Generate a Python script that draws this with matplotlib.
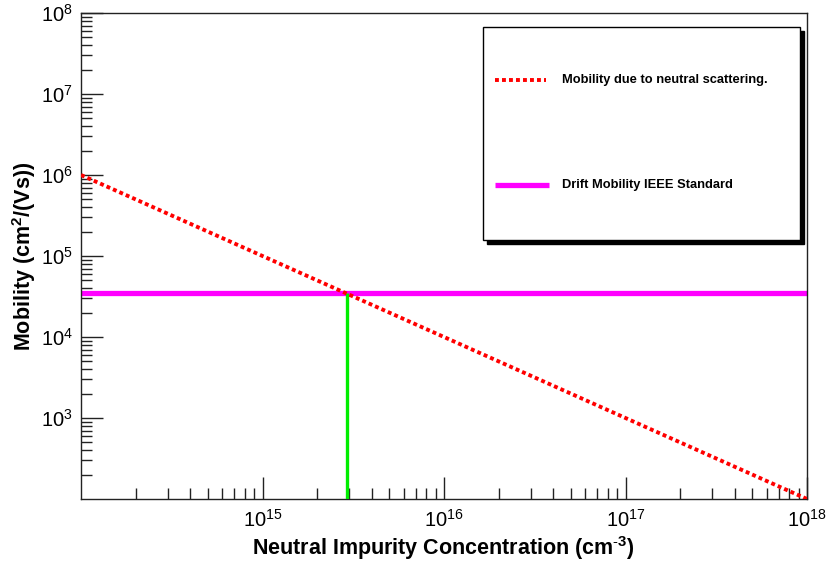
import matplotlib
matplotlib.use("Agg")
import matplotlib.pyplot as plt
from matplotlib.lines import Line2D
from matplotlib.patches import Rectangle
from matplotlib.ticker import LogLocator, NullFormatter

plt.rcParams['font.family'] = ['Liberation Sans', 'DejaVu Sans']
plt.rcParams['mathtext.fontset'] = 'custom'
plt.rcParams['mathtext.rm'] = 'Liberation Sans'
plt.rcParams['mathtext.bf'] = 'Liberation Sans:bold'
plt.rcParams['mathtext.default'] = 'regular'

# data
concentration = [1e14, 1e15, 1e16, 1e17, 1e18]
neutral_mobility = [1.0e6, 1.0e5, 1.0e4, 1.0e3, 1.0e2]
drift_mobility = 3.5e4
x_range = [1e14, 1e18]
y_range = [1e2, 1e8]
crossing_x = 2.93e15
x_ticks = [1e15, 1e16, 1e17, 1e18]
x_ticklabels = [r'$\mathdefault{10^{15}}$', r'$\mathdefault{10^{16}}$', r'$\mathdefault{10^{17}}$', r'$\mathdefault{10^{18}}$']
y_ticks = [1e3, 1e4, 1e5, 1e6, 1e7, 1e8]
y_ticklabels = [r'$\mathdefault{10^{3}}$', r'$\mathdefault{10^{4}}$', r'$\mathdefault{10^{5}}$',
                r'$\mathdefault{10^{6}}$', r'$\mathdefault{10^{7}}$', r'$\mathdefault{10^{8}}$']
legend_labels = ["Mobility due to neutral scattering.", "Drift Mobility IEEE Standard"]

W, H = 831, 565
fig = plt.figure(figsize=(W / 100, H / 100), dpi=100)
ax = fig.add_axes([81 / W, 1 - 499 / H, (807 - 81) / W, (499 - 13) / H])

ax.set_xscale('log')
ax.set_yscale('log')
ax.set_xlim(*x_range)
ax.set_ylim(*y_range)

ax.plot(x_range, [drift_mobility, drift_mobility], color='#ff00ff', lw=3.8, solid_capstyle='butt', zorder=2)
ax.plot([crossing_x, crossing_x], [y_range[0], drift_mobility], color='#00ee00', lw=2.4, solid_capstyle='butt', zorder=3)
ax.plot(concentration, neutral_mobility, color='#ff0000', lw=2.8, linestyle=(0, (1.0, 0.8)), zorder=4)

ax.xaxis.set_minor_locator(LogLocator(base=10, subs=range(2, 10), numticks=20))
ax.yaxis.set_minor_locator(LogLocator(base=10, subs=range(2, 10), numticks=20))
ax.xaxis.set_minor_formatter(NullFormatter())
ax.yaxis.set_minor_formatter(NullFormatter())
ax.set_xticks(x_ticks)
ax.set_xticklabels(x_ticklabels)
ax.set_yticks(y_ticks)
ax.set_yticklabels(y_ticklabels)

ax.tick_params(which='both', direction='in', top=False, right=False, color='#222222')
ax.tick_params(which='major', length=16, width=1, labelsize=14.5)
ax.tick_params(axis='x', which='major', pad=7)
ax.tick_params(axis='y', which='major', pad=6)
ax.tick_params(which='minor', length=8, width=1)
for s in ax.spines.values():
    s.set_linewidth(1.0)
    s.set_color('#222222')

fig.text(443 / W, 1 - 548 / H, r'Neutral Impurity Concentration (cm$^{\mathbf{\text{-}3}}$)', ha='center', va='center',
         fontsize=15.5, fontweight='bold')
fig.text(24 / W, 1 - 256 / H, r'Mobility (cm$^{\mathbf{2}}$/(Vs))', ha='center', va='center',
         fontsize=15.5, fontweight='bold', rotation=90)

# legend box with shadow
bx0, by0, bx1, by1 = 483, 27, 800, 240
fig.patches.append(Rectangle(((bx0 + 4) / W, 1 - (by1 + 4) / H), (bx1 - bx0) / W, (by1 - by0) / H,
                             transform=fig.transFigure, facecolor='black', edgecolor='black', zorder=5))
fig.patches.append(Rectangle((bx0 / W, 1 - by1 / H), (bx1 - bx0) / W, (by1 - by0) / H,
                             transform=fig.transFigure, facecolor='white', edgecolor='black', lw=1, zorder=6))
fig.lines.append(Line2D([495 / W, 546 / W], [1 - 80 / H, 1 - 80 / H], transform=fig.transFigure,
                        color='#ff0000', lw=2.8, linestyle=(0, (1.0, 0.8)), zorder=7))
fig.lines.append(Line2D([495 / W, 549 / W], [1 - 185 / H, 1 - 185 / H], transform=fig.transFigure,
                        color='#ff00ff', lw=3.8, solid_capstyle='butt', zorder=7))
fig.text(562 / W, 1 - 80 / H, legend_labels[0], ha='left', va='center', fontsize=9.3, fontweight='bold', zorder=8)
fig.text(562 / W, 1 - 185 / H, legend_labels[1], ha='left', va='center', fontsize=9.3, fontweight='bold', zorder=8)

fig.savefig('out.png', dpi=100)
